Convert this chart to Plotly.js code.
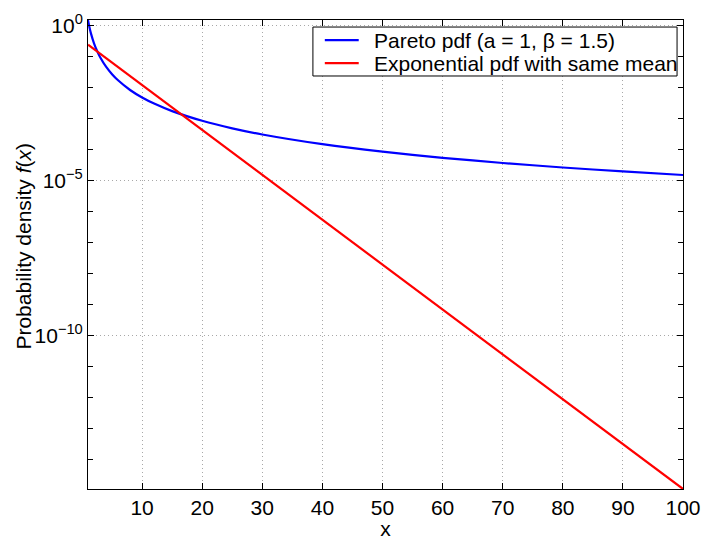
<!DOCTYPE html>
<html>
<head>
<meta charset="utf-8">
<script src="https://cdn.plot.ly/plotly-3.0.1.min.js"></script>
<style>html,body{margin:0;padding:0;background:#fff}#chart{width:704px;height:540px}</style>
</head>
<body>
<div id="chart"></div>
<script>
// Pareto pdf (a = 1, beta = 1.5)
const paretoX = [1, 1.25, 1.5, 2, 2.5, 3, 4, 5, 6, 8, 10, 12, 15, 20, 25, 30, 40, 50, 60, 70, 80, 90, 100];
const paretoY = [1.5, 0.859, 0.544, 0.265, 0.152, 0.0962, 0.0469, 0.0268, 0.0170, 0.00829, 0.00474, 0.00301,
                 0.00172, 0.000839, 0.00048, 0.000304, 0.000148, 8.49e-5, 5.38e-5, 3.66e-5, 2.62e-5, 1.95e-5, 1.5e-5];
// Exponential pdf with same mean
const expX = [1, 25, 50, 75, 100];
const expY = [0.2388, 8.0e-5, 1.92e-8, 4.63e-12, 1.113e-15];

const seriesNames = ['Pareto pdf (a = 1, \u03B2 = 1.5)', 'Exponential pdf with same mean'];
const seriesColors = ['#0000ff', '#ff0000'];
const xTicks = [10, 20, 30, 40, 50, 60, 70, 80, 90, 100];
const yTickVals = [1, 1e-5, 1e-10];
const yTickText = ['10<sup>0</sup>', '10<sup>\u22125</sup>', '10<sup>\u221210</sup>'];
const yMinorVals = [1e-1,1e-2,1e-3,1e-4,1e-6,1e-7,1e-8,1e-9,1e-11,1e-12,1e-13,1e-14];
const xRange = [1, 100];
const yRangeLog = [-14.954, 0.176];

const font = 'Liberation Sans, Arial, Helvetica, sans-serif';
const fs = 21;

const traces = [
  {x: paretoX, y: paretoY, name: seriesNames[0], type: 'scatter', mode: 'lines',
   line: {color: seriesColors[0], width: 2.2, shape: 'spline', smoothing: 0.6}},
  {x: expX, y: expY, name: seriesNames[1], type: 'scatter', mode: 'lines',
   line: {color: seriesColors[1], width: 2.2}}
];

// Legend drawn in paper coordinates (MATLAB-style compact box)
const legBox = {x0: 0.378, x1: 0.99, y0: 0.8806, y1: 0.985};
const legRowsY = [0.957, 0.908];
const legLineX = [0.398, 0.455];
const legTextX = 0.477;

const shapes = [
  {type: 'rect', xref: 'paper', yref: 'paper', x0: legBox.x0, x1: legBox.x1, y0: legBox.y0, y1: legBox.y1,
   fillcolor: '#fff', line: {color: '#000', width: 1}, layer: 'above'}
];
const annotations = [{
  text: 'Probability density <i>f</i>(<i>x</i>)', textangle: -90,
  xref: 'paper', yref: 'paper', x: -0.1076, y: 0.519, xanchor: 'center', yanchor: 'middle',
  showarrow: false, font: {family: font, size: fs, color: '#000'}
}];
seriesNames.forEach((n, i) => {
  shapes.push({type: 'line', xref: 'paper', yref: 'paper', x0: legLineX[0], x1: legLineX[1],
               y0: legRowsY[i], y1: legRowsY[i], line: {color: seriesColors[i], width: 2.2}, layer: 'above'});
  annotations.push({text: n, xref: 'paper', yref: 'paper', x: legTextX, y: legRowsY[i],
                    xanchor: 'left', yanchor: 'middle', showarrow: false,
                    font: {family: font, size: fs, color: '#000'}});
});

const layout = {
  width: 704, height: 540,
  margin: {l: 88, r: 21, t: 20, b: 51},
  paper_bgcolor: '#fff', plot_bgcolor: '#fff',
  font: {family: font, size: fs, color: '#000'},
  showlegend: false,
  xaxis: {
    range: xRange, tickmode: 'array', tickvals: xTicks,
    ticks: 'inside', ticklen: 6, tickcolor: '#000', tickwidth: 1,
    showline: true, linecolor: '#000', linewidth: 1, mirror: 'ticks',
    showgrid: true, gridcolor: '#a8a8a8', griddash: '1px,3px', gridwidth: 1,
    zeroline: false, tickfont: {family: font, size: fs},
    title: {text: 'x', font: {family: font, size: fs}, standoff: 2}
  },
  yaxis: {
    type: 'log', range: yRangeLog, tickmode: 'array', tickvals: yTickVals, ticktext: yTickText,
    ticks: 'inside', ticklen: 6, tickcolor: '#000', tickwidth: 1,
    showline: true, linecolor: '#000', linewidth: 1, mirror: 'ticks',
    showgrid: true, gridcolor: '#a8a8a8', griddash: '1px,3px', gridwidth: 1,
    zeroline: false, tickfont: {family: font, size: fs},
    minor: {tickmode: 'array', tickvals: yMinorVals, ticks: 'inside', ticklen: 5, tickcolor: '#000', showgrid: false}
  },
  shapes: shapes,
  annotations: annotations
};

Plotly.newPlot('chart', traces, layout, {displayModeBar: false, staticPlot: true});
</script>
</body>
</html>
